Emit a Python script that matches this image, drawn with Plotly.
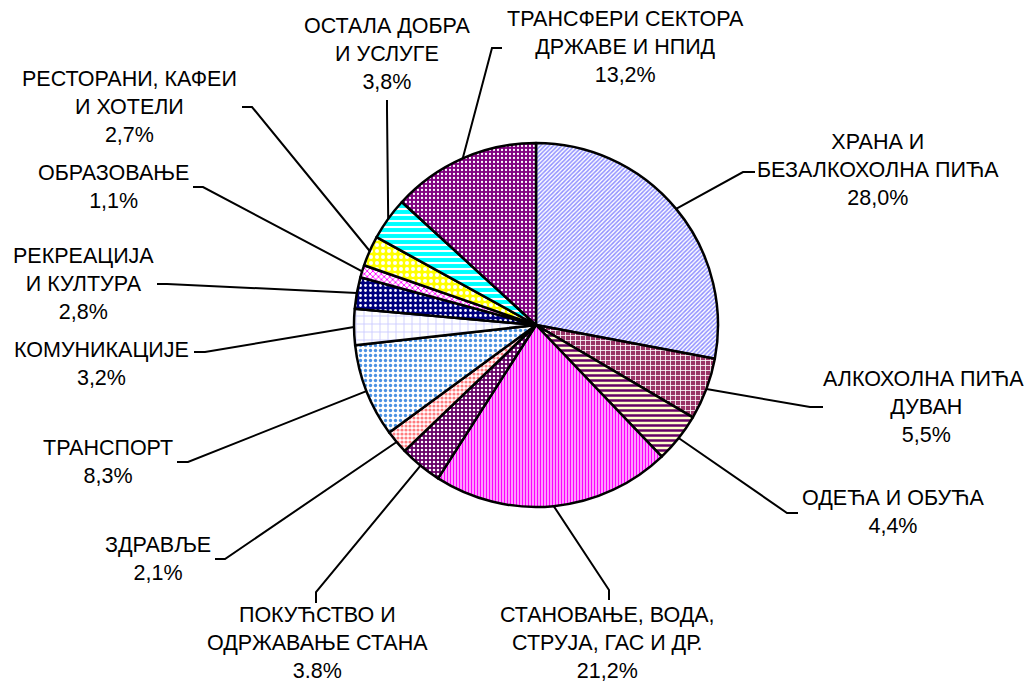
import numpy as np
import plotly.graph_objects as go

# ---------------- data ----------------
categories = [
    "ХРАНА И<br>БЕЗАЛКОХОЛНА ПИЋА",
    "АЛКОХОЛНА ПИЋА,<br>ДУВАН",
    "ОДЕЋА И ОБУЋА",
    "СТАНОВАЊЕ, ВОДА,<br>СТРУЈА, ГАС И ДР.",
    "ПОКУЋСТВО И<br>ОДРЖАВАЊЕ СТАНА",
    "ЗДРАВЉЕ",
    "ТРАНСПОРТ",
    "КОМУНИКАЦИЈЕ",
    "РЕКРЕАЦИЈА<br>И КУЛТУРА",
    "ОБРАЗОВАЊЕ",
    "РЕСТОРАНИ, КАФЕИ<br>И ХОТЕЛИ",
    "ОСТАЛА ДОБРА<br>И УСЛУГЕ",
    "ТРАНСФЕРИ СЕКТОРА<br>ДРЖАВЕ И НПИД",
]
values = [28.0, 5.5, 4.4, 21.2, 3.8, 2.1, 8.3, 3.2, 2.8, 1.1, 2.7, 3.8, 13.2]
value_labels = ["28,0%", "5,5%", "4,4%", "21,2%", "3.8%", "2,1%", "8,3%",
                "3,2%", "2,8%", "1,1%", "2,7%", "3,8%", "13,2%"]

# ---------------- styles ----------------
bg_colors = ["#FFFFFF", "#993366", "#FFFFCC", "#FFFFFF", "#660066", "#FFFFFF", "#FFFFFF",
             "#FFFFFF", "#000080", "#FFFFFF", "#FFFF00", "#00FFFF", "#800080"]
fg_colors = ["#8F8FFF", "#FFFFFF", "#660066", "#FF00FF", "#FFFFFF", "#FF7C80", "#4A90E2",
             "#C8C8FF", "#FFFFFF", "#FF00FF", "#FFFFFF", "#FFFFFF", "#FFFFFF"]
shapes_p = ["/", "+", "-", "|", ".", ".", ".", "+", ".", "x", ".", "-", "."]
sizes_p = [3, 5, 5, 3, 4, 4, 5, 8, 5, 4, 6, 6, 4]
solid_p = [0.5, 0.3, 0.5, 0.6, 0.3, 0.5, 0.35, 0.2, 0.25, 0.4, 0.35, 0.35, 0.25]

# page is 1033x683; the browser body has an 8px margin, so the figure is 1025x675
PAGE_W, PAGE_H, OFF = 1033, 683, 8
W, H = PAGE_W - OFF, PAGE_H - OFF
CX, CY, R = 536, 325, 182   # in page pixels

# label block centres (page pixels), leader elbow and tick end (page pixels)
label_pos = [(878, 170), (926, 407), (893, 512), (607, 643), (317, 643), (158, 559),
             (108, 462), (101, 364), (83, 284), (113, 187), (129, 107), (387, 54), (625, 47)]
elbows = [(743, 172), (810, 407), (787, 513), (609, 590), (316, 592), (225, 559),
          (188, 462), (205, 352), (167, 284), (203, 187), (252, 107), (387, 110), (492, 48)]
tick_ends = [(755, 172), (823, 407), (798, 513), (609, 600), (316, 603), (215, 559),
             (177, 462), (194, 352), (157, 284), (193, 187), (242, 107), (387, 100), (502, 48)]

fig = go.Figure()

fig.add_trace(go.Pie(
    values=values,
    labels=[c.replace("<br>", " ") for c in categories],
    sort=False,
    direction="clockwise",
    rotation=0,
    textinfo="none",
    hoverinfo="label+percent",
    showlegend=False,
    domain=dict(x=[(CX - R - OFF) / W, (CX + R - OFF) / W],
                y=[(PAGE_H - CY - R) / H, (PAGE_H - CY + R) / H]),
    marker=dict(
        colors=bg_colors,
        line=dict(color="#000000", width=2.5),
        pattern=dict(shape=shapes_p, bgcolor=bg_colors, fgcolor=fg_colors,
                     size=sizes_p, solidity=solid_p, fillmode="replace"),
    ),
))

# leader lines start at slice mid-angles on the circle
vals = np.array(values)
cum = np.cumsum(vals)
mid = (cum - vals / 2) / vals.sum() * 2 * np.pi
starts = [(CX + R * np.sin(a), CY - R * np.cos(a)) for a in mid]

shapes = []
for (sx, sy), (ex, ey), (tx, ty) in zip(starts, elbows, tick_ends):
    shapes.append(dict(type="path", xref="x", yref="y",
                       path=f"M {sx:.1f} {sy:.1f} L {ex} {ey} L {tx} {ty}",
                       line=dict(color="#000000", width=2)))

annotations = []
for cat, vl, (lx, ly) in zip(categories, value_labels, label_pos):
    annotations.append(dict(x=lx, y=ly, xref="x", yref="y", showarrow=False,
                            text=f"{cat}<br>{vl}", align="center",
                            xanchor="center", yanchor="middle",
                            font=dict(family="Arial, Liberation Sans, sans-serif",
                                      size=21.5, color="#000000")))

fig.update_layout(
    width=W, height=H,
    margin=dict(l=0, r=0, t=0, b=0),
    paper_bgcolor="#FFFFFF", plot_bgcolor="rgba(0,0,0,0)",
    xaxis=dict(range=[OFF, PAGE_W], visible=False, fixedrange=True),
    yaxis=dict(range=[PAGE_H, OFF], visible=False, fixedrange=True),
    shapes=shapes, annotations=annotations,
)

fig.write_html("out.html")
